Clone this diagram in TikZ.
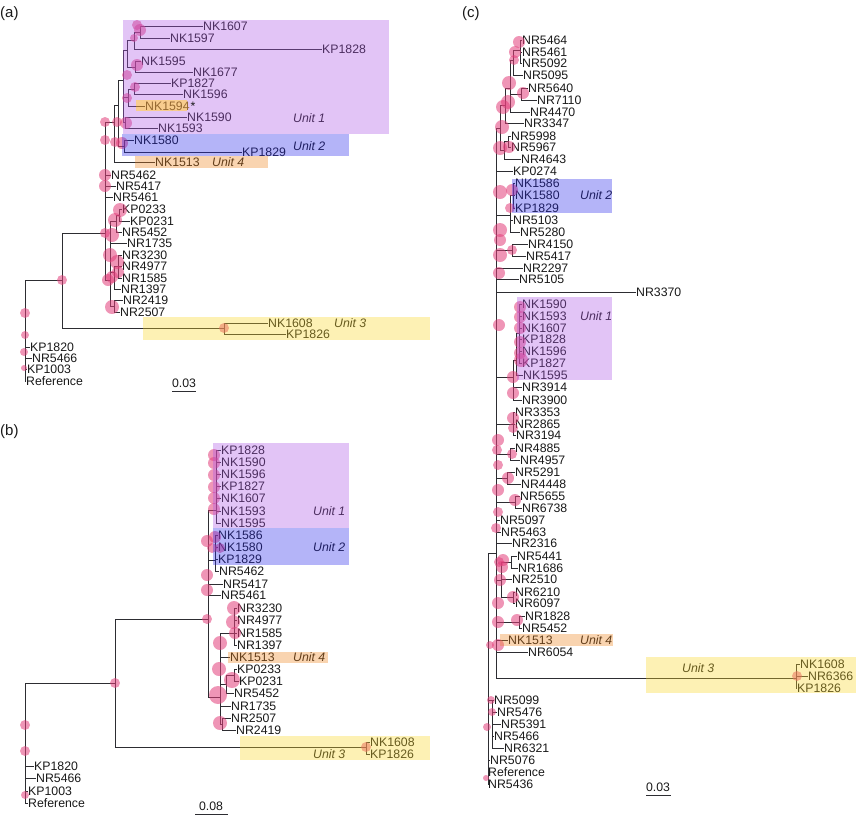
\documentclass[tikz,border=0pt]{standalone}
\usepackage{fontspec}
\setmainfont{Liberation Sans}
\definecolor{uA}{RGB}{172,86,229}
\definecolor{uB}{RGB}{41,41,235}
\definecolor{uD}{RGB}{238,132,29}
\definecolor{uC}{RGB}{249,215,41}
\definecolor{brc}{RGB}{45,45,50}
\definecolor{txc}{RGB}{25,25,25}
\definecolor{dotc}{RGB}{226,62,122}
\definecolor{oNF}{RGB}{248,204,142}
\definecolor{tNF}{RGB}{150,105,50}
\begin{document}
\begin{tikzpicture}[x=1pt,y=-1pt,
  br/.style={draw=brc, line width=1pt},
  leaf/.style={anchor=west, inner sep=0.5pt, text=txc, font=\fontsize{12.3}{12}\selectfont, text height=8.8pt, text depth=0pt},
  unitlbl/.style={anchor=west, inner sep=0pt, text=txc, font=\fontsize{12.3}{12}\selectfont\itshape},
  panel/.style={anchor=west, inner sep=0pt, text=txc, font=\fontsize{15}{15}\selectfont},
  scl/.style={inner sep=0pt, text=txc, font=\fontsize{12.3}{12}\selectfont},
  dot/.style={fill=dotc, fill opacity=0.55},
  ovl/.style={fill=#1, fill opacity=0.35}
]
\useasboundingbox (0,0) rectangle (856,817);

% ================= panel (a) =================
\node[panel] (aLab) at (0,14) {(a)};
\coordinate (aRoot) at (25,330);
\coordinate (aMid) at (62,280);
\coordinate (aU3) at (224,328);
\coordinate (aMain) at (105,233);
\coordinate (aU124) at (114,122);
\coordinate (aU12) at (118,105);
\coordinate (aU2) at (124,146);
\coordinate (aU1) at (123,80);
\coordinate (aA) at (127,50);
\coordinate (aA1) at (134,40);
\coordinate (aA11) at (140,32);
\coordinate (aA2) at (135,67);
\coordinate (aB) at (128,97);
\coordinate (aB1) at (134,89);
\coordinate (aB94) at (136,106);
\coordinate (aC) at (125,122);
\coordinate (aC1) at (110,280);
\coordinate (aKP) at (116,221);
\coordinate (aKP2) at (119,215);
\coordinate (aNR3) at (114,272);
\coordinate (aNR3b) at (118,266);
\coordinate (aNR24) at (114,306);
\foreach \p/\c in {aRoot/aMid, aMid/aMain, aMid/aU3, aMain/aU124, aMain/aC1, aU124/aU12, aU12/aU1, aU12/aU2, aU1/aA, aU1/aB, aU1/aC, aA/aA1, aA/aA2, aA1/aA11, aB/aB1, aB/aB94, aC1/aKP, aC1/aNR3, aC1/aNR24, aKP/aKP2, aNR3/aNR3b}
  \draw[br] (\p) |- (\c);
\foreach \lname/\x/\y/\p in {NK1607/203/26/aA11, NK1597/170/38/aA11, KP1828/322/49/aA1, NK1595/141/61/aA2, NK1677/193/72/aA2, KP1827/171/83/aB1, NK1596/183/94/aB1, NK1590/187/117/aC, NK1593/158/128/aC, NK1580/134/140/aU2, KP1829/242/152/aU2, NK1513/155/162/aU124, NR5462/111/175/aMain, NR5417/116/186/aMain, NR5461/113/197/aMain, KP0233/122/209/aKP2, KP0231/130/221/aKP2, NR5452/122/232/aKP, NR1735/127/243/aC1, NR3230/122/255/aNR3b, NR4977/122/266/aNR3b, NR1585/122/278/aNR3b, NR1397/121/289/aNR3, NR2419/123/300/aNR24, NR2507/120/312/aNR24, NK1608/268/323/aU3, KP1826/286/334/aU3, KP1820/30/347/aRoot, NR5466/32/358/aRoot, KP1003/27/369/aRoot, Reference/26/381/aRoot}
{
  \node[leaf] (a\lname) at ({\x-0.5},\y) {\lname};
  \draw[br] (\p) |- (a\lname.west);
}
\foreach \x/\y/\r in {140/30/6, 137/25/5, 134/38/4, 137/65/6, 127/75/5, 135/87/5, 127/98/5, 126/123/6, 122/143/6, 117/122/5, 115/142/5, 105/122/5, 105/140/5, 105/175/6, 105/186/6, 120/210/7, 115/220/7, 105/233/5, 112/235/7, 110/255/7, 117/262/7, 118/272/6, 108/280/6, 112/277/6, 112/307/7, 62/280/5, 25/313/5, 25/335/4, 24/352/4, 24/368/3, 224/328/5}
  \fill[dot] (\x,\y) circle[radius=\r pt];
\node[unitlbl] (aUn1) at (293,118) {Unit 1};
\node[unitlbl] (aUn2) at (293,146) {Unit 2};
\node[unitlbl] (aUn4) at (212,162) {Unit 4};
\node[unitlbl] (aUn3) at (334,323) {Unit 3};
\fill[ovl=uA] (123,20) rectangle (389,134);
\fill[ovl=uB] (122,134) rectangle (349,156);
\fill[ovl=uD] (135,156) rectangle (268,168);
\fill[ovl=uC] (143,317) rectangle (430,340);
\fill[oNF] (136,100) rectangle (187,111);
\node[leaf, text=tNF] (aNK1594) at (144.5,106) {NK1594};
\draw[br, draw=tNF] (aB94) -- (aNK1594.west);
\node[leaf] (aStar) at (190,106) {*};
\node[scl] (aScale) at (184,383) {0.03};
\coordinate (aS1) at (172,391);
\coordinate (aS2) at (196,391);
\draw[br] (aS1) -- (aS2);

% ================= panel (b) =================
\node[panel] (bLab) at (0,432) {(b)};
\coordinate (bRoot) at (25,740);
\coordinate (bMid) at (115,683);
\coordinate (bU3) at (366,747);
\coordinate (bMain) at (208,619);
\coordinate (bU1) at (216,510);
\coordinate (bU2) at (215,560);
\coordinate (bLow) at (220,697);
\coordinate (bNR3) at (234,633);
\coordinate (bKP) at (226,684);
\coordinate (bKP2) at (234,675);
\coordinate (bNR25) at (222,724);
\foreach \p/\c in {bRoot/bMid, bMid/bMain, bMid/bU3, bMain/bU1, bMain/bU2, bMain/bLow, bLow/bNR3, bLow/bKP, bLow/bNR25, bKP/bKP2}
  \draw[br] (\p) |- (\c);
\foreach \lname/\x/\y/\p in {KP1828/221/450/bU1, NK1590/221/462/bU1, NK1596/221/474/bU1, KP1827/221/486/bU1, NK1607/221/498/bU1, NK1593/221/511/bU1, NK1595/221/523/bU1, NK1586/218/535/bU2, NK1580/218/547/bU2, KP1829/218/559/bU2, NR5462/219/571/bU2, NR5417/223/584/bMain, NR5461/221/595/bMain, NR3230/237/608/bNR3, NR4977/237/620/bNR3, NR1585/237/633/bNR3, NR1397/237/645/bNR3, NK1513/230/657/bLow, KP0233/237/669/bKP2, KP0231/239/681/bKP2, NR5452/234/693/bKP, NR1735/231/706/bLow, NR2507/231/718/bNR25, NR2419/236/730/bNR25, NK1608/370/742/bU3, KP1826/370/754/bU3, KP1820/34/766/bRoot, NR5466/36/778/bRoot, KP1003/28/791/bRoot, Reference/28/803/bRoot}
{
  \node[leaf] (b\lname) at ({\x-0.5},\y) {\lname};
  \draw[br] (\p) |- (b\lname.west);
}
\foreach \x/\y/\r in {214/455/6, 214/463/6, 214/475/6, 214/487/6, 214/498/6, 214/509/6, 207/541/6, 215/537/6, 212/548/5, 220/548/5, 207/575/6, 207/590/6, 207/619/5, 234/608/7, 233/622/7, 235/633/6, 220/643/7, 219/669/7, 232/680/8, 218/695/9, 220/723/7, 115/683/5, 25/725/5, 25/751/5, 366/747/5, 25/795/4}
  \fill[dot] (\x,\y) circle[radius=\r pt];
\node[unitlbl] (bUn1) at (313,511) {Unit 1};
\node[unitlbl] (bUn2) at (313,547) {Unit 2};
\node[unitlbl] (bUn4) at (293,657) {Unit 4};
\node[unitlbl] (bUn3) at (313,754) {Unit 3};
\fill[ovl=uA] (213,443) rectangle (349,528);
\fill[ovl=uB] (213,528) rectangle (349,565);
\fill[ovl=uD] (228,652) rectangle (328,663);
\fill[ovl=uC] (240,736) rectangle (430,760);
\node[scl] (bScale) at (211,806) {0.08};
\coordinate (bS1) at (195,814);
\coordinate (bS2) at (228,814);
\draw[br] (bS1) -- (bS2);

% ================= panel (c) =================
\node[panel] (cLab) at (462,14) {(c)};
\coordinate (cRoot) at (488,660);
\coordinate (cTrunk) at (496,553);
\coordinate (cB) at (492,700);
\coordinate (cG1234) at (500,128);
\coordinate (cG123) at (505,105);
\coordinate (cG12) at (510,88);
\coordinate (cG1) at (513,60);
\coordinate (cG1a) at (520,50);
\coordinate (cG2a) at (521,94);
\coordinate (cG4) at (504,150);
\coordinate (cG4a) at (508,141);
\coordinate (cU2p) at (510,215);
\coordinate (cU2) at (513,195);
\coordinate (cG5) at (512,250);
\coordinate (cU1pp) at (513,377);
\coordinate (cU1p) at (516,360);
\coordinate (cU1) at (519,333);
\coordinate (cG6) at (513,424);
\coordinate (cG7) at (510,454);
\coordinate (cG8) at (507,478);
\coordinate (cG9) at (515,502);
\coordinate (cG10) at (501,580);
\coordinate (cG10a) at (511,562);
\coordinate (cG10b) at (513,597);
\coordinate (cG11) at (519,622);
\coordinate (cU3) at (796,678);
\foreach \p/\c in {cRoot/cTrunk, cRoot/cB, cTrunk/cG1234, cTrunk/cU2p, cTrunk/cG5, cTrunk/cU1pp, cTrunk/cG6, cTrunk/cG7, cTrunk/cG8, cTrunk/cG9, cTrunk/cG10, cTrunk/cG11, cTrunk/cU3, cG1234/cG123, cG1234/cG4, cG123/cG12, cG12/cG1, cG12/cG2a, cG1/cG1a, cG4/cG4a, cU2p/cU2, cU1pp/cU1p, cU1p/cU1, cG10/cG10a, cG10/cG10b}
  \draw[br] (\p) |- (\c);
\foreach \lname/\x/\y/\p in {NR5464/522/40/cG1a, NR5461/522/52/cG1a, NR5092/522/63/cG1a, NR5095/523/75/cG1, NR5640/528/88/cG2a, NR7110/537/100/cG2a, NR4470/530/112/cG12, NR3347/524/123/cG123, NR5998/511/136/cG4a, NR5967/511/147/cG4a, NR4643/521/159/cG4, KP0274/513/171/cTrunk, NK1586/515/183/cU2, NK1580/515/195/cU2, KP1829/515/208/cU2, NR5103/513/220/cU2p, NR5280/520/232/cU2p, NR4150/528/244/cG5, NR5417/526/256/cG5, NR2297/523/268/cTrunk, NR5105/519/279/cTrunk, NR3370/636/292/cTrunk, NK1590/522/304/cU1, NK1593/522/316/cU1, NK1607/522/328/cU1, KP1828/522/339/cU1, NK1596/522/351/cU1, KP1827/522/363/cU1, NK1595/523/375/cU1p, NR3914/522/387/cU1pp, NR3900/522/400/cU1pp, NR3353/515/412/cG6, NR2865/515/424/cG6, NR3194/516/435/cG6, NR4885/515/448/cG7, NR4957/520/460/cG7, NR5291/515/472/cG8, NR4448/521/484/cG8, NR5655/520/496/cG9, NR6738/522/508/cG9, NR5097/500/520/cTrunk, NR5463/501/532/cTrunk, NR2316/512/543/cTrunk, NR5441/517/556/cG10a, NR1686/518/568/cG10a, NR2510/512/579/cG10, NR6210/515/592/cG10b, NR6097/515/603/cG10b, NR1828/525/616/cG11, NR5452/522/628/cG11, NK1513/508/640/cTrunk, NR6054/528/652/cTrunk, NK1608/800/664/cU3, NR6366/808/676/cU3, KP1826/797/688/cU3, NR5099/494/700/cB, NR5476/497/712/cB, NR5391/501/724/cB, NR5466/494/736/cB, NR6321/504/748/cB, NR5076/490/760/cRoot, Reference/488/772/cRoot, NR5436/488/784/cRoot}
{
  \node[leaf] (c\lname) at ({\x-0.5},\y) {\lname};
  \draw[br] (\p) |- (c\lname.west);
}
\foreach \x/\y/\r in {519/42/6, 515/52/6, 514/60/5, 509/83/7, 523/93/6, 508/102/7, 503/107/7, 502/127/7, 500/148/7, 509/147/6, 500/192/7, 512/190/6, 510/208/5, 500/230/7, 500/240/6, 500/255/7, 512/250/5, 499/273/6, 499/325/6, 520/307/6, 520/317/6, 520/328/6, 520/342/6, 520/353/6, 521/360/7, 513/377/6, 513/393/6, 513/418/6, 513/428/5, 498/440/6, 497/450/5, 512/454/5, 498/465/5, 508/478/6, 498/490/6, 515/500/6, 498/512/5, 496/528/5, 503/560/6, 499/562/5, 502/567/6, 500/580/6, 498/603/6, 513/597/6, 498/622/6, 517/620/6, 490/645/4, 498/645/6, 797/676/5, 491/700/4, 492/712/4, 487/727/4, 486/778/3}
  \fill[dot] (\x,\y) circle[radius=\r pt];
\node[unitlbl] (cUn2) at (580,195) {Unit 2};
\node[unitlbl] (cUn1) at (580,316) {Unit 1};
\node[unitlbl] (cUn4) at (580,640) {Unit 4};
\node[unitlbl] (cUn3) at (682,668) {Unit 3};
\fill[ovl=uB] (512,179) rectangle (612,213);
\fill[ovl=uA] (517,297) rectangle (612,380);
\fill[ovl=uD] (500,634) rectangle (613,646);
\fill[ovl=uC] (646,657) rectangle (856,693);
\node[scl] (cScale) at (658,787) {0.03};
\coordinate (cS1) at (646,795);
\coordinate (cS2) at (671,795);
\draw[br] (cS1) -- (cS2);
\end{tikzpicture}
\end{document}
